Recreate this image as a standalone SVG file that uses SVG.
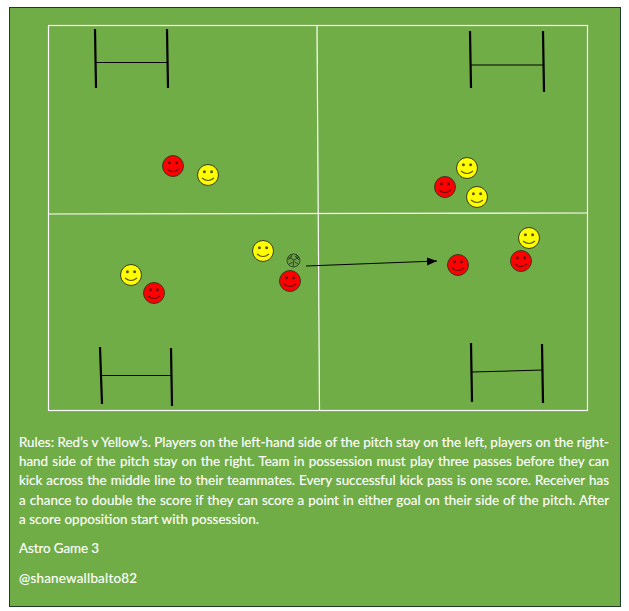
<svg xmlns="http://www.w3.org/2000/svg" width="629" height="611" viewBox="0 0 629 611">
<style>
.pitch{stroke:#fff;stroke-width:1.2;fill:none}
.post{stroke:#000;stroke-width:2.2;fill:none}
.bar{stroke:#000;stroke-width:1.1;fill:none}
.r{fill:#f00;color:#6a0808}
.y{fill:#ff0;color:#5f5200}
.f{stroke:#3a3a20;stroke-width:1}
.e{fill:currentColor}
.m{fill:none;stroke:currentColor;stroke-width:1.1}
text{font-family:"Lato","Liberation Sans",sans-serif;font-size:13.4px;fill:#fff;stroke:#fff;stroke-width:.15px}
</style>
<defs>
<g id="face"><circle class="f" r="10.5"/><circle class="e" cx="-3.6" cy="-3.2" r="1.5"/><circle class="e" cx="3.6" cy="-3.2" r="1.5"/><path class="m" d="M-6 3Q0 8 6 3"/></g>
<marker id="arr" markerWidth="11" markerHeight="9" refX="10" refY="4" orient="auto" markerUnits="userSpaceOnUse"><path d="M0 0L10 4L0 8z" fill="#000"/></marker>
</defs>
<rect width="629" height="611" fill="#fff"/>
<rect x="9.500" y="7.500" width="611" height="599" fill="#70ad47" stroke="#1f3a2a" stroke-width="1"/>
<g id="pitch">
<rect class="pitch" x="48.500" y="25.500" width="539" height="385"/>
<path class="pitch" d="M48.500 214L587.500 213M317 25.500L319.500 410.500"/>
</g>
<g id="goal-top-left"><path class="post" d="M95 29L96 88M167 29L168 88"/><path class="bar" d="M96 62.500H167"/></g>
<g id="goal-top-right"><path class="post" d="M470 31L471 88M543 31L544 92"/><path class="bar" d="M471 65H543"/></g>
<g id="goal-bottom-left"><path class="post" d="M100 347L102 404M171 348L172 406"/><path class="bar" d="M101 375.500H172"/></g>
<g id="goal-bottom-right"><path class="post" d="M471 343L472 402M542 344L543 403"/><path class="bar" d="M472 372L543 370"/></g>
<g id="connectors"><path d="M306 266L437 261" stroke="#000" stroke-width="1.2" fill="none" marker-end="url(#arr)"/></g>
<g id="red-1" class="r"><use href="#face" x="173" y="166"/></g>
<g id="yellow-1" class="y"><use href="#face" x="208" y="175"/></g>
<g id="yellow-2" class="y"><use href="#face" x="467" y="168"/></g>
<g id="red-2" class="r"><use href="#face" x="445" y="187"/></g>
<g id="yellow-3" class="y"><use href="#face" x="477" y="197"/></g>
<g id="yellow-4" class="y"><use href="#face" x="263" y="251"/></g>
<g id="red-3" class="r"><use href="#face" x="290" y="281"/></g>
<g id="yellow-5" class="y"><use href="#face" x="131" y="275"/></g>
<g id="red-4" class="r"><use href="#face" x="154" y="293"/></g>
<g id="red-5" class="r"><use href="#face" x="458" y="265"/></g>
<g id="yellow-6" class="y"><use href="#face" x="529" y="238"/></g>
<g id="red-6" class="r"><use href="#face" x="521" y="261"/></g>
<g id="ball" fill="none" stroke="#2a4420" stroke-width=".9"><circle cx="293.500" cy="260.500" r="6.500" fill="#6a9f48"/><path d="M288 257L294 260L299 257M294 260L293 267M289 264L293 262M298 264L295 262M292 254L290 259M296 254L298 259M288 260L292 256M299 260L295 256"/></g>
<g id="text">
<text x="19" y="447" textLength="590">Rules: Red’s v Yellow’s. Players on the left-hand side of the pitch stay on the left, players on the right-</text>
<text x="19" y="466" textLength="590" style="word-spacing:.83px">hand side of the pitch stay on the right. Team in possession must play three passes before they can</text>
<text x="19" y="485" textLength="590" style="word-spacing:.69px">kick across the middle line to their teammates. Every successful kick pass is one score. Receiver has</text>
<text x="19" y="505" textLength="590" style="word-spacing:.5px">a chance to double the score if they can score a point in either goal on their side of the pitch. After</text>
<text x="19" y="524" textLength="240">a score opposition start with possession.</text>
<text x="19" y="553" textLength="80">Astro Game 3</text>
<text x="19" y="583" textLength="118">@shanewallbalto82</text>
</g>
</svg>
